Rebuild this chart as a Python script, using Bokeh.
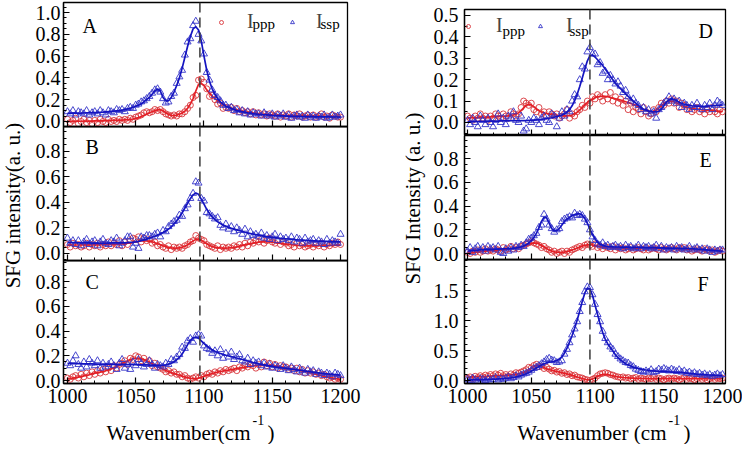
import math
from bokeh.plotting import figure
from bokeh.models import (Range1d, Span, Label, Legend, LegendItem, FixedTicker,
                          NumeralTickFormatter, CustomLabelingPolicy)
from bokeh.core.properties import value
from bokeh.layouts import row, column
from bokeh.embed import file_html
from bokeh.resources import INLINE

FONT = "Liberation Serif"
RED_PT, RED_LN = "#d8343a", "#e41f26"
BLUE_PT, BLUE_LN = "#3434c8", "#1414c0"

wavenumber = list(range(1000, 1201, 2))

# ---------------- Panel A ----------------
A_ssp = [.09,.07,.10,.06,.09,.08,.07,.10,.06,.08,
         .09,.07,.10,.08,.06,.10,.09,.08,.11,.10,
         .11,.09,.12,.13,.12,.15,.16,.18,.19,.21,
         .23,.26,.29,.30,.27,.21,.17,.18,.23,.26,
         .35,.41,.47,.61,.73,.76,.88,.92,.80,.74,
         .62,.45,.38,.29,.24,.22,.19,.15,.15,.12,
         .13,.10,.11,.08,.10,.07,.09,.06,.08,.07,
         .07,.05,.08,.06,.05,.07,.04,.06,.05,.07,
         .04,.06,.03,.05,.06,.04,.05,.03,.06,.04,
         .05,.03,.05,.04,.06,.03,.04,.06,.04,.05,
         .06]
A_ssp_fit = [.075,.075,.076,.076,.077,.077,.078,.079,.080,.081,
             .082,.083,.085,.086,.088,.090,.092,.095,.098,.100,
             .105,.110,.115,.120,.130,.140,.150,.160,.180,.200,
             .220,.250,.280,.300,.280,.220,.190,.190,.220,.270,
             .330,.400,.490,.590,.690,.780,.850,.870,.840,.740,
             .600,.470,.370,.300,.250,.210,.180,.160,.140,.130,
             .120,.110,.100,.095,.090,.085,.080,.076,.072,.069,
             .066,.064,.062,.060,.058,.056,.055,.054,.052,.051,
             .050,.049,.048,.048,.047,.046,.046,.045,.045,.044,
             .044,.043,.043,.043,.042,.042,.042,.041,.041,.041,
             .040]
A_ppp = [.02,-.01,.01,.03,-.02,.00,.02,-.01,.01,-.02,
         .01,-.01,.02,.00,-.01,.02,.00,.01,.00,.02,
         .01,.02,.01,.03,.02,.04,.05,.06,.08,.09,
         .08,.09,.11,.10,.11,.09,.07,.06,.05,.06,
         .05,.07,.07,.09,.12,.15,.22,.24,.38,.39,
         .36,.30,.23,.24,.20,.16,.17,.12,.13,.12,
         .13,.10,.12,.09,.10,.08,.09,.07,.09,.06,
         .08,.06,.07,.05,.07,.06,.05,.07,.04,.06,
         .05,.07,.04,.06,.05,.07,.04,.05,.06,.04,
         .06,.04,.05,.07,.04,.05,.03,.06,.05,.04,
         .04]
A_ppp_fit = [.000,.000,.001,.001,.002,.002,.003,.003,.004,.004,
             .005,.005,.006,.006,.007,.008,.009,.010,.011,.013,
             .012,.014,.016,.019,.023,.028,.035,.045,.055,.068,
             .080,.090,.100,.107,.108,.098,.080,.065,.056,.053,
             .058,.066,.078,.095,.120,.160,.210,.280,.340,.350,
             .330,.290,.260,.230,.210,.190,.170,.155,.140,.130,
             .120,.113,.106,.100,.094,.089,.085,.081,.077,.074,
             .071,.068,.066,.064,.062,.060,.059,.058,.057,.056,
             .055,.054,.053,.053,.052,.052,.051,.051,.050,.050,
             .050,.049,.049,.049,.048,.048,.048,.048,.047,.047,
             .047]

# ---------------- Panel B ----------------
B_ssp = [.12,.08,.10,.07,.10,.06,.09,.11,.07,.09,
         .10,.06,.09,.11,.08,.07,.10,.09,.12,.06,
         .08,.10,.13,.13,.05,.08,.04,.13,.12,.14,
         .14,.13,.15,.16,.13,.18,.17,.21,.23,.25,
         .26,.30,.29,.35,.38,.43,.47,.56,.55,.43,
         .41,.32,.31,.29,.27,.28,.22,.20,.23,.19,
         .21,.17,.20,.18,.15,.19,.13,.17,.14,.15,
         .13,.16,.12,.14,.11,.13,.15,.10,.13,.11,
         .12,.10,.13,.09,.12,.11,.08,.12,.09,.10,
         .11,.08,.10,.09,.07,.11,.08,.10,.09,.08,
         .15]
B_ssp_fit = [.085,.085,.084,.084,.083,.083,.082,.082,.082,.081,
             .081,.081,.081,.081,.081,.081,.082,.082,.083,.084,
             .082,.083,.084,.086,.088,.091,.095,.100,.106,.112,
             .119,.127,.135,.144,.153,.163,.175,.190,.208,.230,
             .255,.285,.318,.355,.392,.428,.458,.472,.462,.425,
             .385,.345,.312,.285,.265,.248,.234,.222,.212,.204,
             .197,.190,.184,.178,.172,.166,.161,.156,.151,.147,
             .143,.139,.135,.132,.129,.126,.123,.121,.119,.117,
             .115,.113,.111,.109,.107,.105,.104,.102,.101,.100,
             .099,.098,.097,.096,.095,.094,.093,.092,.092,.091,
             .090]
B_ppp = [.07,.05,.08,.06,.07,.05,.06,.08,.05,.07,
         .06,.08,.05,.07,.06,.09,.06,.08,.07,.10,
         .06,.09,.07,.10,.12,.11,.13,.09,.12,.10,
         .11,.08,.09,.06,.07,.05,.04,.06,.03,.05,
         .04,.05,.04,.06,.07,.09,.10,.14,.12,.11,
         .10,.07,.06,.05,.04,.06,.03,.05,.04,.05,
         .04,.06,.05,.07,.05,.08,.06,.09,.08,.10,
         .09,.11,.08,.10,.12,.09,.08,.10,.07,.09,
         .08,.06,.07,.05,.08,.06,.07,.05,.06,.07,
         .05,.07,.06,.08,.05,.07,.06,.08,.07,.09,
         .07]
B_ppp_fit = [.065,.065,.066,.066,.066,.066,.067,.067,.067,.067,
             .067,.068,.068,.068,.069,.069,.070,.071,.072,.073,
             .075,.077,.080,.083,.087,.091,.095,.098,.100,.099,
             .096,.091,.084,.076,.068,.060,.053,.047,.043,.041,
             .041,.043,.048,.056,.068,.083,.098,.110,.112,.104,
             .090,.075,.063,.054,.048,.045,.043,.042,.042,.043,
             .045,.048,.052,.057,.062,.067,.072,.077,.081,.085,
             .088,.090,.091,.091,.090,.088,.085,.082,.079,.076,
             .073,.070,.068,.066,.064,.062,.061,.060,.060,.060,
             .060,.060,.061,.061,.062,.062,.063,.063,.064,.064,
             .065]

# ---------------- Panel C ----------------
C_ssp = [.14,.12,.16,.20,.13,.10,.15,.11,.17,.14,
         .12,.16,.10,.14,.11,.13,.15,.12,.09,.14,
         .17,.10,.13,.09,.15,.12,.17,.14,.11,.13,
         .16,.13,.10,.13,.12,.11,.14,.13,.17,.16,
         .19,.21,.27,.26,.32,.34,.31,.36,.37,.36,
         .28,.26,.25,.22,.24,.20,.25,.18,.22,.19,
         .23,.17,.19,.21,.16,.15,.18,.13,.16,.14,
         .15,.12,.14,.11,.13,.10,.12,.11,.09,.12,
         .10,.08,.11,.09,.07,.10,.08,.06,.09,.07,
         .08,.05,.07,.06,.04,.06,.05,.03,.06,.05,
         .04]
C_ssp_fit = [.138,.138,.137,.137,.136,.136,.135,.135,.134,.134,
             .133,.133,.133,.132,.132,.132,.131,.131,.131,.130,
             .130,.130,.129,.129,.128,.128,.127,.127,.126,.126,
             .125,.124,.124,.123,.123,.124,.127,.133,.140,.150,
             .168,.188,.215,.250,.290,.325,.345,.350,.342,.320,
             .298,.280,.263,.248,.236,.226,.218,.211,.204,.198,
             .193,.188,.182,.176,.170,.164,.158,.152,.146,.141,
             .135,.130,.126,.122,.118,.114,.110,.107,.104,.101,
             .098,.095,.092,.089,.086,.083,.080,.077,.074,.071,
             .068,.065,.062,.059,.056,.054,.052,.050,.048,.046,
             .044]
C_ppp = [.02,.01,.03,.04,.02,.05,.03,.06,.04,.07,
         .05,.08,.06,.09,.07,.10,.08,.12,.10,.13,
         .14,.16,.13,.18,.17,.20,.19,.16,.18,.15,
         .16,.12,.14,.11,.10,.09,.07,.08,.06,.07,
         .05,.05,.03,.04,.02,.01,.02,.03,.02,.04,
         .03,.05,.06,.05,.07,.06,.08,.07,.09,.08,
         .09,.10,.08,.11,.10,.12,.11,.13,.12,.10,
         .13,.11,.15,.12,.14,.11,.13,.10,.12,.11,
         .11,.09,.10,.08,.10,.07,.09,.06,.08,.06,
         .07,.05,.06,.04,.05,.03,.02,.03,.01,.02,
         .01]
C_ppp_fit = [.012,.016,.020,.024,.028,.032,.037,.042,.047,.054,
             .060,.064,.068,.073,.079,.086,.094,.103,.113,.125,
             .137,.149,.160,.169,.176,.180,.180,.176,.169,.159,
             .148,.136,.124,.112,.101,.091,.081,.072,.064,.057,
             .050,.043,.036,.029,.023,.018,.015,.015,.019,.026,
             .034,.042,.050,.057,.063,.068,.073,.077,.081,.084,
             .088,.092,.096,.100,.104,.108,.112,.115,.118,.120,
             .121,.122,.122,.121,.120,.118,.116,.113,.110,.107,
             .103,.099,.095,.091,.087,.083,.078,.073,.068,.063,
             .058,.052,.046,.040,.034,.029,.024,.020,.016,.013,
             .010]

# ---------------- Panel D ----------------
D_ssp = [.01,-.01,.02,.00,-.02,.03,.01,-.01,.02,.00,
         -.02,.01,.04,.00,.02,-.01,.03,.02,.05,.01,
         .00,.03,-.04,-.03,.01,.00,.02,.01,-.01,.02,
         .03,.01,.00,.04,.03,-.02,.02,.05,.03,.06,
         .05,.10,.13,.12,.20,.26,.25,.33,.35,.32,
         .32,.27,.28,.23,.24,.20,.22,.20,.18,.19,
         .17,.14,.15,.12,.10,.11,.09,.08,.06,.07,
         .05,.06,.04,.05,.02,.06,.07,.09,.10,.12,
         .10,.11,.09,.10,.07,.09,.08,.06,.08,.07,
         .09,.07,.06,.08,.07,.09,.06,.08,.10,.09,
         .08]
D_ssp_fit = [.003,.003,.004,.004,.004,.005,.005,.005,.005,.006,
             .006,.006,.006,.007,.007,.007,.007,.008,.008,.008,
             .008,.009,.009,.009,.010,.010,.011,.012,.013,.014,
             .016,.018,.020,.022,.025,.028,.031,.035,.040,.048,
             .060,.078,.102,.132,.168,.208,.250,.288,.312,.316,
             .306,.293,.280,.266,.250,.233,.216,.199,.183,.170,
             .158,.146,.134,.122,.111,.100,.090,.080,.070,.062,
             .058,.054,.051,.049,.049,.052,.062,.078,.095,.106,
             .110,.108,.102,.095,.089,.085,.082,.080,.078,.077,
             .076,.075,.075,.075,.076,.077,.078,.079,.080,.081,
             .082]
D_ppp = [.03,.02,.01,.03,.02,.04,.02,.03,.01,.03,
         .02,.04,.03,.02,.04,.03,.02,.05,.04,.03,
         .04,.07,.10,.09,.08,.09,.06,.05,.07,.04,
         .05,.03,.05,.04,.03,.04,.02,.03,.04,.06,
         .02,.04,.03,.05,.06,.08,.07,.10,.09,.12,
         .11,.13,.12,.10,.13,.11,.14,.10,.12,.09,
         .11,.08,.10,.06,.09,.05,.07,.06,.04,.07,
         .05,.03,.04,.06,.05,.07,.09,.08,.10,.09,
         .11,.09,.10,.07,.09,.08,.06,.07,.05,.06,
         .07,.05,.06,.04,.06,.05,.07,.05,.04,.06,
         .05]
D_ppp_fit = [.022,.022,.023,.023,.023,.024,.024,.025,.025,.026,
             .026,.027,.027,.028,.029,.030,.031,.033,.035,.038,
             .045,.055,.068,.080,.085,.082,.073,.063,.055,.049,
             .045,.042,.040,.038,.036,.034,.033,.032,.031,.031,
             .032,.035,.040,.048,.058,.070,.082,.093,.102,.110,
             .116,.120,.122,.123,.122,.120,.117,.114,.111,.108,
             .105,.101,.097,.093,.089,.084,.079,.073,.067,.061,
             .056,.052,.050,.052,.058,.067,.078,.088,.096,.100,
             .100,.097,.092,.086,.080,.075,.071,.068,.066,.064,
             .062,.061,.059,.058,.057,.056,.055,.054,.053,.052,
             .052]

# ---------------- Panel E ----------------
E_ssp = [.02,.05,.01,.04,.06,.03,.05,.02,.06,.04,
         .05,.03,.06,.01,.00,.04,.02,.05,.03,.06,
         .05,.07,.06,.09,.12,.13,.15,.17,.22,.24,
         .33,.29,.24,.21,.18,.20,.21,.27,.29,.30,
         .31,.30,.34,.32,.33,.32,.29,.26,.20,.14,
         .11,.08,.07,.09,.06,.07,.05,.06,.07,.05,
         .06,.04,.07,.05,.06,.04,.05,.07,.04,.06,
         .05,.06,.04,.05,.07,.04,.06,.03,.05,.04,
         .05,.03,.06,.04,.05,.03,.04,.06,.03,.04,
         .05,.03,.04,.02,.04,.03,.01,.03,.02,.03,
         .03]
E_ssp_fit = [.020,.022,.024,.026,.028,.030,.031,.032,.033,.034,
             .035,.036,.037,.038,.039,.040,.041,.043,.045,.048,
             .052,.057,.064,.074,.088,.108,.135,.170,.215,.270,
             .305,.300,.255,.210,.190,.192,.210,.240,.270,.290,
             .305,.318,.328,.334,.335,.322,.295,.255,.205,.160,
             .122,.095,.078,.068,.062,.059,.057,.056,.055,.055,
             .054,.054,.053,.053,.052,.052,.052,.051,.051,.051,
             .050,.050,.049,.049,.048,.048,.047,.047,.046,.046,
             .045,.045,.044,.044,.043,.043,.042,.041,.040,.039,
             .038,.036,.035,.033,.031,.029,.027,.025,.023,.021,
             .020]
E_ppp = [.01,.00,.02,.01,.03,.01,.02,.04,.02,.03,
         .02,.04,.03,.02,.05,.03,.04,.06,.04,.05,
         .04,.06,.07,.08,.09,.10,.09,.08,.07,.05,
         .06,.04,.03,.01,.02,.00,.01,.02,.00,.02,
         .01,.03,.04,.05,.06,.05,.07,.08,.07,.06,
         .08,.05,.06,.04,.06,.05,.04,.06,.03,.05,
         .04,.05,.03,.04,.05,.03,.04,.05,.04,.03,
         .05,.03,.04,.05,.04,.03,.05,.04,.03,.04,
         .05,.04,.03,.05,.04,.05,.03,.04,.02,.03,
         .04,.03,.02,.04,.03,.02,.03,.01,.02,.03,
         .02]
E_ppp_fit = [.005,.008,.010,.012,.014,.016,.018,.020,.022,.024,
             .025,.027,.028,.030,.032,.034,.036,.039,.042,.046,
             .050,.055,.062,.070,.078,.085,.089,.088,.080,.068,
             .055,.042,.030,.020,.014,.011,.010,.010,.012,.016,
             .022,.030,.038,.046,.054,.062,.069,.073,.075,.072,
             .067,.062,.058,.054,.051,.049,.047,.045,.044,.043,
             .042,.041,.041,.040,.040,.040,.040,.040,.040,.040,
             .040,.040,.040,.040,.040,.040,.040,.040,.040,.040,
             .040,.040,.039,.039,.038,.037,.036,.035,.034,.033,
             .032,.031,.030,.029,.028,.027,.026,.025,.024,.022,
             .020]

# ---------------- Panel F ----------------
F_ssp = [.02,.00,.04,.01,-.01,.03,.02,.00,.03,.01,
         .02,.05,.01,.03,.02,.04,.06,.03,.05,.08,
         .06,.09,.11,.12,.14,.17,.20,.22,.25,.28,
         .31,.35,.37,.34,.33,.30,.31,.33,.44,.52,
         .63,.76,.86,.98,1.15,1.30,1.48,1.56,1.55,1.43,
         1.27,1.10,.98,.82,.70,.63,.56,.52,.44,.40,
         .36,.33,.30,.29,.25,.23,.19,.17,.15,.14,
         .16,.14,.18,.13,.15,.19,.17,.20,.18,.16,
         .19,.17,.15,.18,.14,.16,.12,.14,.11,.13,
         .10,.12,.09,.11,.08,.10,.07,.09,.11,.08,
         .10]
F_ssp_fit = [.010,.011,.012,.013,.014,.015,.016,.018,.019,.021,
             .022,.024,.026,.028,.031,.035,.040,.046,.053,.061,
             .070,.082,.096,.113,.132,.155,.180,.208,.235,.260,
             .280,.295,.305,.312,.320,.332,.355,.395,.455,.540,
             .640,.750,.870,1.010,1.160,1.320,1.460,1.540,1.530,1.420,
             1.260,1.100,.940,.800,.690,.610,.550,.490,.430,.380,
             .340,.310,.280,.260,.240,.220,.210,.200,.190,.180,
             .175,.170,.165,.160,.156,.152,.149,.146,.144,.142,
             .140,.138,.136,.133,.130,.127,.123,.119,.115,.111,
             .107,.104,.101,.098,.095,.092,.090,.088,.086,.084,
             .083]
F_ppp = [.04,.06,.03,.07,.05,.08,.06,.09,.07,.10,
         .08,.11,.09,.12,.08,.10,.07,.11,.09,.13,
         .12,.14,.16,.18,.22,.21,.25,.27,.23,.24,
         .20,.22,.19,.16,.17,.14,.15,.12,.13,.10,
         .11,.08,.09,.06,.05,.04,.02,.01,.00,.02,
         .04,.08,.11,.12,.13,.12,.10,.09,.07,.06,
         .05,.06,.04,.05,.03,.04,.05,.02,.04,.03,
         .02,.04,.03,.05,.02,.04,.03,.01,.03,.04,
         .02,.04,.03,.01,.03,.05,.02,.04,.03,.01,
         .03,.05,.02,.04,.01,.03,.05,.02,.04,.03,
         .04]
F_ppp_fit = [.055,.057,.059,.061,.063,.065,.067,.069,.071,.074,
             .077,.080,.082,.084,.086,.088,.091,.095,.100,.105,
             .112,.122,.135,.152,.175,.205,.235,.252,.250,.235,
             .215,.197,.182,.170,.160,.150,.140,.130,.120,.110,
             .098,.085,.072,.058,.045,.032,.020,.012,.012,.025,
             .045,.070,.090,.100,.102,.098,.088,.078,.068,.060,
             .055,.050,.046,.043,.040,.038,.036,.035,.034,.033,
             .032,.032,.031,.031,.030,.030,.030,.030,.030,.030,
             .030,.030,.030,.030,.030,.030,.030,.030,.030,.030,
             .030,.030,.030,.030,.030,.030,.030,.030,.030,.030,
             .030]

# ---------------- ticks ----------------
x_major = [1000, 1050, 1100, 1150, 1200]
x_minor = list(range(990, 1211, 10))
ticks_02 = [0.0, 0.2, 0.4, 0.6, 0.8, 1.0]
minor_005 = [round(0.05 * i, 2) for i in range(-2, 22)]
ticks_D = [0.0, 0.1, 0.2, 0.3, 0.4, 0.5]
minor_D = [round(0.05 * i, 2) for i in range(-2, 12)]
ticks_F = [0.0, 0.5, 1.0, 1.5]
minor_F = [round(0.1 * i, 1) for i in range(-1, 21)]

HIDE_LABELS = "for (const i of indices) { indices.unset(i) }\nreturn indices"
OVERLAP = 12


def panel(width, height, bl, br, bt, bb, xr, yr, yt, ym, show_x, standoff,
          tucked=False):
    p = figure(width=width, height=height, x_range=Range1d(*xr), y_range=Range1d(*yr),
               min_border_left=bl, min_border_right=br, min_border_top=bt,
               min_border_bottom=bb, output_backend="svg", toolbar_location=None,
               tools="")
    p.xgrid.visible = False
    p.ygrid.visible = False
    p.outline_line_color = "black"
    p.outline_line_width = 1.3
    p.outline_line_alpha = 1.0
    for ax in (p.xaxis[0], p.yaxis[0]):
        ax.axis_line_width = 1.3
        ax.major_tick_in = 6
        ax.major_tick_out = 0
        ax.minor_tick_in = 3
        ax.minor_tick_out = 0
        ax.major_tick_line_width = 1.2
        ax.minor_tick_line_width = 1
        ax.major_label_text_font = FONT
        ax.major_label_text_font_size = "20px"
        ax.major_label_text_color = "black"
    p.xaxis[0].ticker = FixedTicker(ticks=x_major, minor_ticks=x_minor)
    p.yaxis[0].ticker = FixedTicker(ticks=yt, minor_ticks=ym)
    p.yaxis[0].formatter = NumeralTickFormatter(format="0.0")
    p.yaxis[0].major_label_standoff = standoff
    if show_x:
        p.xaxis[0].major_label_standoff = 5
    else:
        p.xaxis[0].major_label_text_font_size = "0px"
        p.xaxis[0].major_label_standoff = 0
        p.xaxis[0].major_label_policy = CustomLabelingPolicy(code=HIDE_LABELS)
    if tucked:
        # slide up over the spare bottom strip of the panel above, see-through
        p.margin = (-OVERLAP, 0, 0, 0)
        p.background_fill_alpha = 0
        p.border_fill_alpha = 0
    return p


def blank(width, height):
    p = figure(width=width, height=height, x_range=Range1d(0, 1), y_range=Range1d(0, 1),
               min_border=0, min_border_left=0, min_border_right=0, min_border_top=0,
               min_border_bottom=0, output_backend="svg", toolbar_location=None,
               tools="", x_axis_location=None, y_axis_location=None)
    p.grid.visible = False
    p.outline_line_color = None
    return p


def draw(p, ppp, ppp_fit, ssp, ssp_fit, dash_at):
    r1 = p.scatter(wavenumber, ppp, marker="circle", size=6, fill_color=None,
                   line_color=RED_PT, line_width=0.9)
    p.line(wavenumber, ppp_fit, line_color=RED_LN, line_width=1.7)
    r2 = p.scatter(wavenumber, ssp, marker="triangle", size=7, fill_color=None,
                   line_color=BLUE_PT, line_width=0.9)
    p.line(wavenumber, ssp_fit, line_color=BLUE_LN, line_width=1.7)
    p.add_layout(Span(location=dash_at, dimension="height", line_color="#3a3a3a",
                      line_dash="10 5", line_width=1.5))
    return r1, r2


def text(p, x, y, s, size=20, align="left", angle=0.0):
    # y is the vertical middle of the text box, in px above the frame bottom
    p.add_layout(Label(x=x, y=y, x_units="screen", y_units="screen", text=s,
                       text_font=FONT, text_font_size=f"{size}px", text_color="black",
                       text_align=align, text_baseline="middle", angle=angle))


def legend_entry(p, r, vx, vy, standoff):
    lg = Legend(items=[LegendItem(label=value("I"), renderers=[r])], location=(vx, vy),
                orientation="horizontal", padding=0, margin=0, spacing=0,
                glyph_width=10, glyph_height=10, label_standoff=standoff,
                label_text_font=FONT, label_text_font_size="20px",
                label_width=0, label_height=0,
                border_line_alpha=0, background_fill_alpha=0)
    p.add_layout(lg)


XL = (997.1, 1205.1)
XR = (997.6, 1202.35)

# left column: x 25..365, frame 63..347
pA = panel(340, 126 + OVERLAP, 38, 18, 2, OVERLAP, XL, (-0.046, 1.092),
           ticks_02, minor_005, False, 3)
pB = panel(340, 134 + OVERLAP, 38, 18, 0, OVERLAP, XL, (-0.055, 0.992),
           ticks_02[:5], minor_005, False, 3, tucked=True)
pC = panel(340, 151, 38, 18, 0, 28, XL, (-0.024, 0.970),
           ticks_02[:5], minor_005, True, 3, tucked=True)
# right column: x 430..742, frame 464..725
pD = panel(312, 135, 34, 17, 9, 0, XR, (-0.061, 0.528), ticks_D, minor_D, False, 6)
pE = panel(312, 124 + OVERLAP, 34, 17, 0, OVERLAP, XR, (-0.0505, 0.994),
           ticks_02[:5], minor_005, False, 6)
pF = panel(312, 152, 34, 17, 0, 28, XR, (-0.05, 2.017), ticks_F, minor_F, True, 6,
           tucked=True)

rA = draw(pA, A_ppp, A_ppp_fit, A_ssp, A_ssp_fit, 1097)
draw(pB, B_ppp, B_ppp_fit, B_ssp, B_ssp_fit, 1097)
draw(pC, C_ppp, C_ppp_fit, C_ssp, C_ssp_fit, 1097)
rD = draw(pD, D_ppp, D_ppp_fit, D_ssp, D_ssp_fit, 1096)
draw(pE, E_ppp, E_ppp_fit, E_ssp, E_ssp_fit, 1096)
draw(pF, F_ppp, F_ppp_fit, F_ssp, F_ssp_fit, 1096)

# legends
legend_entry(pA, rA[0], 153, 93, 21)
legend_entry(pA, rA[1], 224, 93, 19)
text(pA, 189, 102.5, "ppp", size=15)
text(pA, 257, 102.5, "ssp", size=15)
legend_entry(pD, rD[0], -1, 98, 23)
legend_entry(pD, rD[1], 71, 98, 21)
text(pD, 38, 105, "ppp", size=15)
text(pD, 105, 105, "ssp", size=15)

# panel letters
text(pA, 19, 100.5, "A")
text(pB, 22, 113.5, "B")
text(pC, 22, 101.5, "C")
text(pD, 234, 104.5, "D")
text(pE, 235, 99.5, "E")
text(pF, 233, 99.5, "F")

# axis titles in their own strips
yl_left = blank(25, 444)
text(yl_left, 12.5, 239, "SFG intensity(a. u.)", size=21, align="center",
     angle=math.pi / 2)
yl_right = blank(65, 411)
text(yl_right, 47, 213, "SFG Intensity (a. u.)", size=21, align="center",
     angle=math.pi / 2)
xl = blank(717, 33)
text(xl, 225, 12, "Wavenumber(cm", size=21, align="right")
text(xl, 227, 24.5, "-1", size=14)
text(xl, 242, 12, ")", size=21)
text(xl, 641, 12, "Wavenumber (cm", size=21, align="right")
text(xl, 643, 24.5, "-1", size=14)
text(xl, 658, 12, ")", size=21)

layout = row(yl_left,
             column(row(column(pA, pB, pC), yl_right, column(pD, pE, pF)), xl))

with open("out.html", "w") as f:
    f.write(file_html(layout, INLINE))
